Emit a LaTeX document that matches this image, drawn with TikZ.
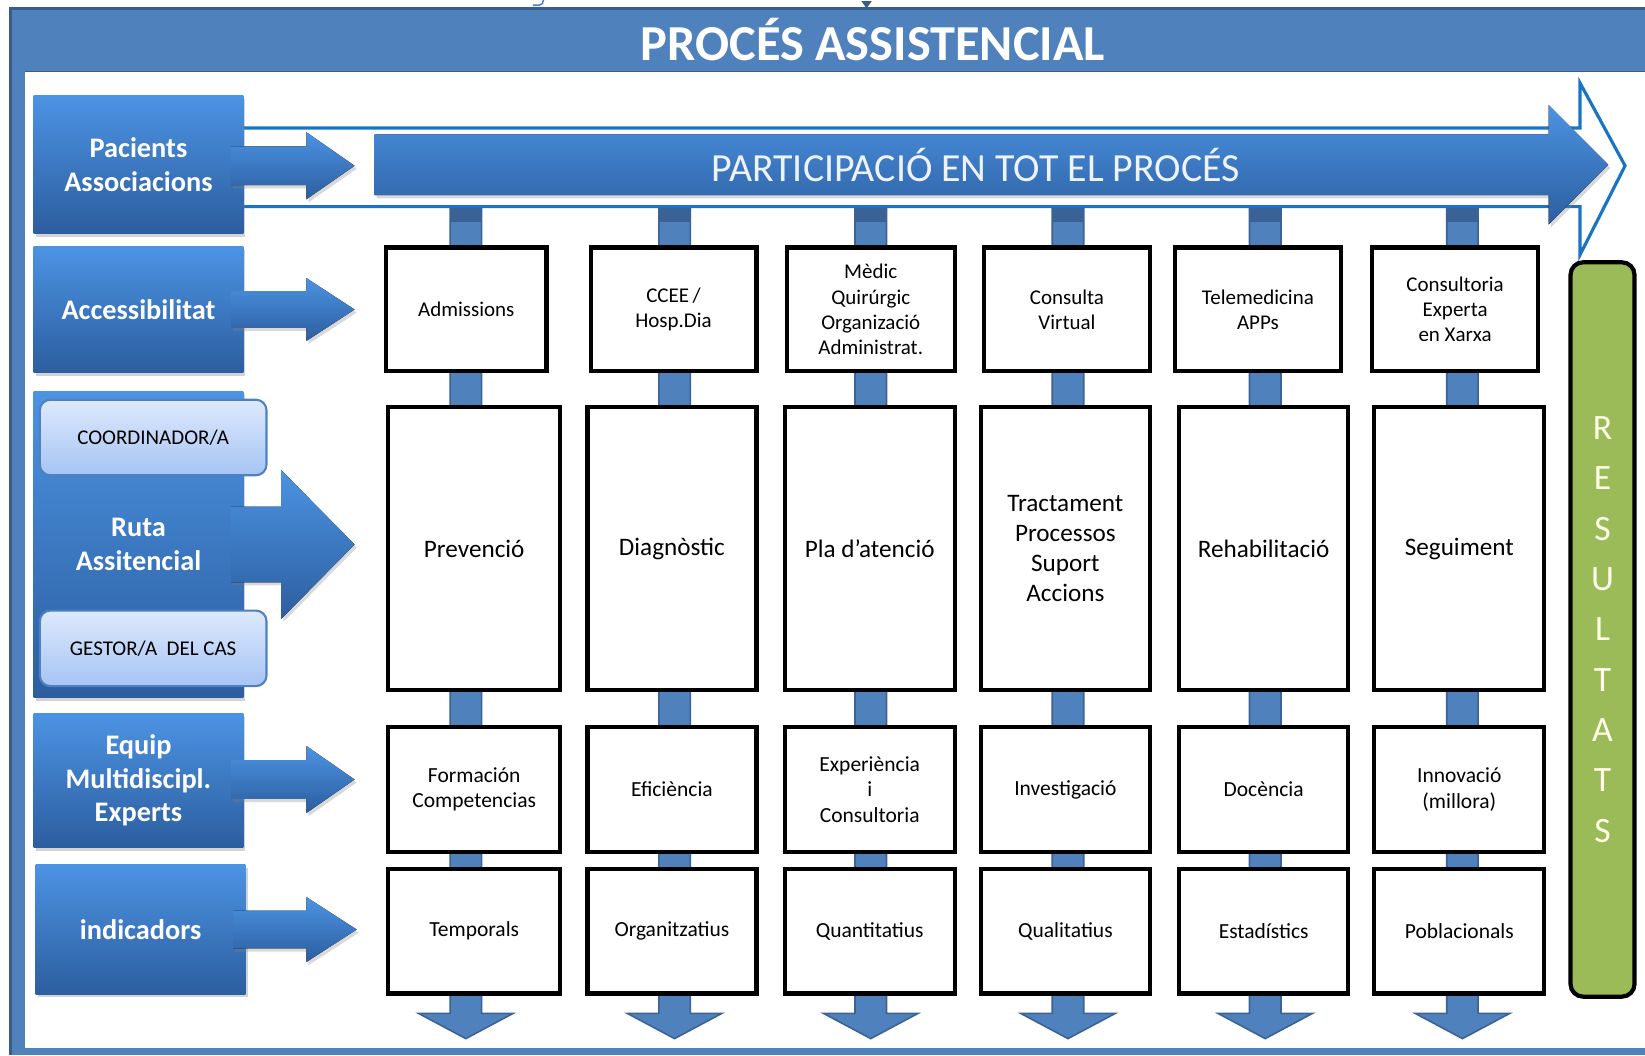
\documentclass[tikz,border=0pt]{standalone}
\usepackage{fontspec}
\setmainfont{Carlito}
\usetikzlibrary{calc,shadows}

\definecolor{frameblue}{HTML}{4F81BD}
\definecolor{framedark}{HTML}{385D8A}
\definecolor{boxtop}{HTML}{4C93E3}
\definecolor{boxbot}{HTML}{2C5E9F}
\definecolor{outblue}{HTML}{1A74C4}
\definecolor{bardark}{HTML}{3B6294}
\definecolor{coordtop}{HTML}{DDE9FD}
\definecolor{coordbot}{HTML}{A6C4F4}
\definecolor{resgreen}{HTML}{9BBB59}
\definecolor{parttxt}{HTML}{EEF3FA}

\tikzset{
  titletext/.style={text=white, font=\fontsize{48}{54}\selectfont\bfseries},
  parttext/.style={text=parttxt, font=\fontsize{38}{42}\selectfont},
  leftbox/.style={rectangle, minimum width=200pt, top color=boxtop, bottom color=boxbot,
    text=white, align=center, font=\fontsize{27}{32}\selectfont\bfseries,
    drop shadow={opacity=0.35, shadow xshift=2pt, shadow yshift=-3pt}},
  blockfill/.style={top color=boxtop, bottom color=boxbot,
    drop shadow={opacity=0.3, shadow xshift=2pt, shadow yshift=-3pt}},
  barfill/.style={fill=frameblue, draw=bardark, line width=1.5pt},
  coordbox/.style={rounded corners=10pt, draw=frameblue, line width=2pt,
    top color=coordtop, bottom color=coordbot, minimum width=216pt, minimum height=72pt,
    font=\fontsize{20}{24}\selectfont},
  cellbox/.style={draw=black, line width=4pt, fill=white, align=center, inner sep=0pt},
  rowone/.style={minimum height=118pt, font=\fontsize{20}{24}\selectfont},
  rowtwo/.style={minimum height=270pt, font=\fontsize{24}{28.5}\selectfont},
  rowthree/.style={minimum height=119pt, font=\fontsize{20.5}{24.5}\selectfont},
  rowfour/.style={minimum height=119pt, font=\fontsize{20.5}{24}\selectfont},
  resbox/.style={rounded corners=12pt, draw=black, line width=4pt, fill=resgreen,
    minimum width=61pt, minimum height=700pt, inner sep=0pt, align=center,
    text=white!92!yellow, font=\fontsize{34}{48}\selectfont}
}

% block arrow: from node #1 to tip #2, shaft half #3, head half #4, head length #5
\newcommand\rightblock[5]{%
  \fill[blockfill] ($(#1.east |- #2)+(-12,-#3)$) -- ($(#2)+(-#5,-#3)$) -- ($(#2)+(-#5,-#4)$)
    -- (#2) -- ($(#2)+(-#5,#4)$) -- ($(#2)+(-#5,#3)$) -- ($(#1.east |- #2)+(-12,#3)$) -- cycle;}
% vertical bar with head pointing down
\newcommand\downblock[5]{%
  \filldraw[barfill] ($(#1)+(-#3,0)$) -- ($(#2)+(-#3,-#5)$) -- ($(#2)+(-#4,-#5)$) -- (#2)
    -- ($(#2)+(#4,-#5)$) -- ($(#2)+(#3,-#5)$) -- ($(#1)+(#3,0)$) -- cycle;}

\begin{document}
\begin{tikzpicture}[x=1pt,y=-1pt]
\useasboundingbox (0,0) rectangle (1568,1006);

% Marc
\fill[frameblue] (10,8) rectangle (1568,68);
\fill[frameblue] (10,8) rectangle (24,1006);
\fill[frameblue] (10,999) rectangle (1568,1006);
\draw[framedark,line width=3pt] (10,1006) -- (10,8) -- (1568,8);
\draw[framedark,line width=1.5pt] (24,68) -- (1568,68);
\draw[frameblue,line width=1.5pt] (508,5) -- (514,5) to[out=0,in=-90] (518,0);
\fill[framedark] (821,1) -- (831,1) -- (826,8) -- cycle;
\node[titletext] (titol) at (832,38) {PROCÉS ASSISTENCIAL};

% Barres verticals
\foreach \c [count=\i] in {444,643,830,1018,1206,1394}{
  \coordinate (top\i) at (\c,190);
  \coordinate (bot\i) at (\c,990);
  \downblock{top\i}{bot\i}{15}{45}{24}
  \fill[bardark] ($(top\i)+(-15,0)$) rectangle ($(top\i)+(15,22)$);
}

% Fletxa de participacio
\draw[outblue,line width=3pt,fill=white] (200,122) -- (1506,122) -- (1506,79) -- (1549,158)
  -- (1506,243) -- (1506,197) -- (200,197);
\fill[blockfill] (357,128) -- (1476,128) -- (1476,100) -- (1533,157) -- (1476,214)
  -- (1476,186) -- (357,186) -- cycle;
\node[parttext] (part) at (930,157) {PARTICIPACIÓ EN TOT EL PROCÉS};

% Columna esquerra
\node[leftbox, minimum height=131pt] (pac) at (132,157) {Pacients\\Associacions};
\node[leftbox, minimum height=120pt] (acc) at (132,295) {Accessibilitat};
\node[leftbox, minimum height=292pt] (ruta) at (132,519) {Ruta\\Assitencial};
\node[leftbox, minimum height=128pt] (equip) at (132,744) {Equip\\Multidiscipl.\\Experts};
\node[leftbox, minimum height=123pt] (ind) at (134,886) {indicadors};

\coordinate (tpac) at (338,158);
\coordinate (tacc) at (338,295);
\coordinate (truta) at (338,519);
\coordinate (tequip) at (338,743);
\coordinate (tind) at (340,886);
\rightblock{pac}{tpac}{18.5}{32}{46}
\rightblock{acc}{tacc}{17.5}{30}{46}
\rightblock{ruta}{truta}{36}{71}{70}
\rightblock{equip}{tequip}{18.5}{32}{46}
\rightblock{ind}{tind}{18}{31}{48}

\node[coordbox] (coord) at (146,417) {COORDINADOR/A};
\node[coordbox] (gestor) at (146,618) {GESTOR/A\ \ DEL CAS};

% Caselles
\foreach \x/\w/\lab [count=\i] in {444.5/153/Admissions, 642/158/{CCEE\,/\\Hosp.Dia},
    830/160/{Mèdic\\Quirúrgic\\Organizació\\Administrat.}, 1017/158/{Consulta\\Virtual},
    1199/158/{Telemedicina\\APPs}, 1387/158/{Consultoria\\Experta\\en Xarxa}}
  \node[cellbox, rowone, minimum width=\w pt] (acc\i) at (\x,295) {\lab};

\foreach \x/\w/\laba/\labb/\labc [count=\i] in {
    452/164/Prevenció/{Formación\\Competencias}/Temporals,
    640.5/161/Diagnòstic/Eficiència/Organitzatius,
    829/162/Pla d’atenció/{Experiència\\i\\Consultoria}/Quantitatius,
    1015.5/161/{Tractament\\Processos\\Suport\\Accions}/Investigació/Qualitatius,
    1204.5/161/Rehabilitació/Docència/Estadístics,
    1391/162/Seguiment/{Innovació\\(millora)}/Poblacionals}{
  \node[cellbox, rowtwo, minimum width=\w pt] (ruta\i) at (\x,523) {\laba};
  \node[cellbox, rowthree, minimum width=\w pt] (equip\i) at (\x,752.5) {\labb};
  \node[cellbox, rowfour, minimum width=\w pt] (ind\i) at (\x,887.5) {\labc};
}

% Resultats
\node[resbox] (res) at (1527.5,600) {R\\E\\S\\U\\L\\T\\A\\T\\S};

\end{tikzpicture}
\end{document}
